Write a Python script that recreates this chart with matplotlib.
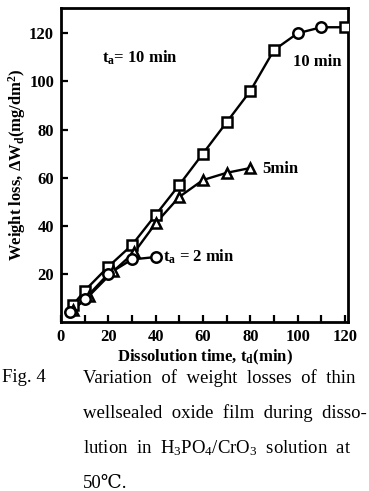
import matplotlib
matplotlib.use("Agg")
import matplotlib.pyplot as plt
from matplotlib.ticker import MultipleLocator

plt.rcParams['font.family'] = ['Liberation Serif', 'DejaVu Serif']
plt.rcParams['mathtext.default'] = 'regular'

# ---- data ----
t2_x = [4, 10, 20, 30, 40]
t2_y = [4, 9.5, 20, 26, 27]

t5_x = [5, 12, 22, 31, 40, 50, 60, 70, 80]
t5_y = [5, 11, 21, 29, 41, 52, 59, 62, 64]

t10_x = [5, 10, 20, 30, 40, 50, 60, 70, 80, 90, 100, 110, 120]
t10_y = [7, 13, 23, 32, 44.5, 57, 70, 83, 96, 113, 120, 122.5, 122.5]
t10_markers = ['s', 's', 's', 's', 's', 's', 's', 's', 's', 's', 'o', 'o', 's']

x_ticks = [0, 20, 40, 60, 80, 100, 120]
y_ticks = [20, 40, 60, 80, 100, 120]

fig = plt.figure(figsize=(3.69, 4.91), dpi=100)
ax = fig.add_axes([0.1653, 0.3442, 0.7778, 0.6395])

mk = dict(mfc='white', mec='black', mew=1.8, ms=7.5, ls='none', zorder=3)
ln = dict(color='black', lw=1.7, zorder=2)

ax.plot(t10_x, t10_y, **ln)
for x, y, m in zip(t10_x, t10_y, t10_markers):
    ax.plot([x], [y], marker=m, **mk)
ax.plot(t5_x, t5_y, **ln)
ax.plot(t5_x, t5_y, marker='^', **mk)
ax.plot(t2_x, t2_y, **ln)
ax.plot(t2_x, t2_y, marker='o', **mk)

ax.set_xlim(0, 121.3)
ax.set_ylim(0, 130.5)
ax.set_xticks(x_ticks)
ax.set_yticks(y_ticks)
ax.xaxis.set_minor_locator(MultipleLocator(10))
ax.tick_params(axis='both', which='both', direction='in', top=False, right=False,
               labelsize=12, width=1.6)
ax.tick_params(axis='both', which='major', length=5, pad=5)
ax.tick_params(axis='x', which='minor', length=5)
for lab in ax.get_xticklabels() + ax.get_yticklabels():
    lab.set_fontweight('bold')
for s in ax.spines.values():
    s.set_linewidth(2.0)

ax.set_xlabel('Dissolution time, t$_d$(min)', fontsize=12, fontweight='bold', labelpad=2)
ax.set_ylabel(r'Weight loss, $\Delta$W$_d$(mg/dm$^2$)', fontsize=12, fontweight='bold', labelpad=1)

ax.text(17.5, 110, 't$_a$= 10 min', fontsize=12, fontweight='bold', va='center', ha='left')
ax.text(98, 108, '10 min', fontsize=12, fontweight='bold', va='center', ha='left')
ax.text(85, 63.5, '5min', fontsize=12, fontweight='bold', va='center', ha='left')
ax.text(43, 27, 't$_a$ = 2 min', fontsize=12, fontweight='bold', va='center', ha='left')

cap_x0 = 2 / 369
cap_x1 = 83 / 369
fs = 13.5
fig.text(cap_x0, 1 - 378 / 491, 'Fig. 4', fontsize=fs, va='center', ha='left')
lines = ['Variation  of  weight  losses  of  thin',
         'wellsealed  oxide  film  during  disso-',
         'lution  in  H$_3$PO$_4$/CrO$_3$  solution  at',
         '50\u2103.']
ys = [378, 413, 448, 483]
for t, y in zip(lines, ys):
    fig.text(cap_x1, 1 - y / 491, t, fontsize=fs, va='center', ha='left')

fig.savefig('out.png', dpi=100)
